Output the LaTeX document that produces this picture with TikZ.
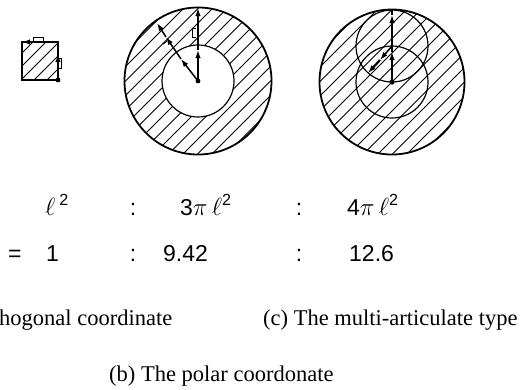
\documentclass[tikz,border=0pt]{standalone}
\usepackage{fontspec}
\setmainfont{Liberation Serif}
\setsansfont{Liberation Sans}
\usetikzlibrary{arrows.meta}
\tikzset{
rim/.style={line width=1.8pt},
thinrim/.style={line width=1.2pt},
hatch/.style={line width=0.8pt},
arr/.style={-{Latex[length=8pt,width=5.5pt]},line width=1.5pt},
tick/.style={line width=1pt},
ratio/.style={inner sep=0pt,anchor=base west,font=\sffamily\fontsize{23}{26}\selectfont},
colon/.style={inner sep=0pt,anchor=base,font=\sffamily\fontsize{23}{26}\selectfont},
caption/.style={inner sep=0pt,anchor=base west,font=\rmfamily\fontsize{22.5}{26}\selectfont}
}

\begin{document}
\begin{tikzpicture}[x=1pt,y=-1pt]
\useasboundingbox (0,0) rectangle (521,389);

% (a) the square
\coordinate (sqa) at (22,42);
\coordinate (sqb) at (58,80);
\begin{scope}
\clip (sqa) rectangle (sqb);
\foreach \k in {-5,...,5}
  \draw[hatch] (40+\k*13,100) -- ++(80,-80);
\end{scope}
\draw[rim] (sqa) rectangle (sqb);
\coordinate (atop) at (46,42);
\coordinate (atip) at (22,42);
\draw[arr] (atop) -- (atip);
\coordinate (abot) at (58,80);
\coordinate (aup) at (58,54);
\draw[arr] (abot) -- (aup);
\fill (abot) circle (2.4);
\draw[tick] (33,41) -- (33,37) -- (43,37) -- (43,41);
\draw[tick] (58,58) -- (61,58) -- (61,68) -- (58,68);

% (b) the polar one
\coordinate (pc) at (198,81);
\begin{scope}[even odd rule]
\clip (pc) circle (73.5) (pc) circle (36);
\foreach \k in {-12,...,12}
  \draw[hatch] (198+\k*14.5-100,181) -- ++(200,-200);
\end{scope}
\draw[rim] (pc) circle (73.5);
\draw[thinrim] (pc) circle (36);
\coordinate (pv1) at (198,50);
\coordinate (pv2) at (198,8);
\draw[arr] (pc) -- (pv1);
\draw[arr] (pv1) -- (pv2);
\coordinate (ps1) at (181,59);
\coordinate (ps2) at (166,37);
\coordinate (ps3) at (157,23);
\draw[arr] (pc) -- (ps1);
\draw[arr] (ps1) -- (ps2);
\draw[arr] (ps2) -- (ps3);
\fill (pc) circle (2.4);
\draw[tick] (196,28) -- (192,28) -- (192,37) -- (196,37);
\draw[tick] (163,44) -- (167,41);

% (c) the multi-articulate one
\coordinate (mc) at (392,82);
\coordinate (mj) at (392,46);
\begin{scope}
\clip (mc) circle (72.5);
\foreach \k in {-12,...,12}
  \draw[hatch] (392+\k*14.5-100,182) -- ++(200,-200);
\end{scope}
\draw[rim] (mc) circle (72.5);
\draw[thinrim] (mc) circle (36);
\draw[thinrim] (mj) circle (36);
\coordinate (mv1) at (392,52);
\coordinate (mv2) at (392,15);
\coordinate (mv3) at (392,10);
\draw[arr] (mc) -- (mv1);
\draw[arr] (mv1) -- (mv2);
\draw[line width=1.5pt] (mv2) -- (mv3);
\coordinate (ms1) at (380,60);
\coordinate (ms2) at (368,73);
\draw[arr] (mj) -- (ms1);
\draw[arr,line width=2.2pt] (ms1) -- (ms2);
\fill (mc) circle (2.6);

% ratios
\node[ratio] (ra) at (45,215) {$\ell$\,\textsuperscript{2}};
\node[colon] (c1) at (133,215) {:};
\node[ratio] (rb) at (180,215) {3$\pi\,\ell$\textsuperscript{2}};
\node[colon] (c2) at (299,215) {:};
\node[ratio] (rc) at (347,215) {4$\pi\,\ell$\textsuperscript{2}};
\node[ratio] (eq) at (8,261) {=};
\node[ratio] (va) at (46,261) {1};
\node[colon] (c3) at (133,261) {:};
\node[ratio] (vb) at (163,261) {9.42};
\node[colon] (c4) at (299,261) {:};
\node[ratio] (vc) at (349,261) {12.6};

% captions
\node[caption] (capa) at (-1,325) {hogonal coordinate};
\node[caption] (capc) at (263,325) {(c) The multi-articulate type};
\node[caption] (capb) at (109,381) {(b) The polar coordonate};
\end{tikzpicture}
\end{document}
